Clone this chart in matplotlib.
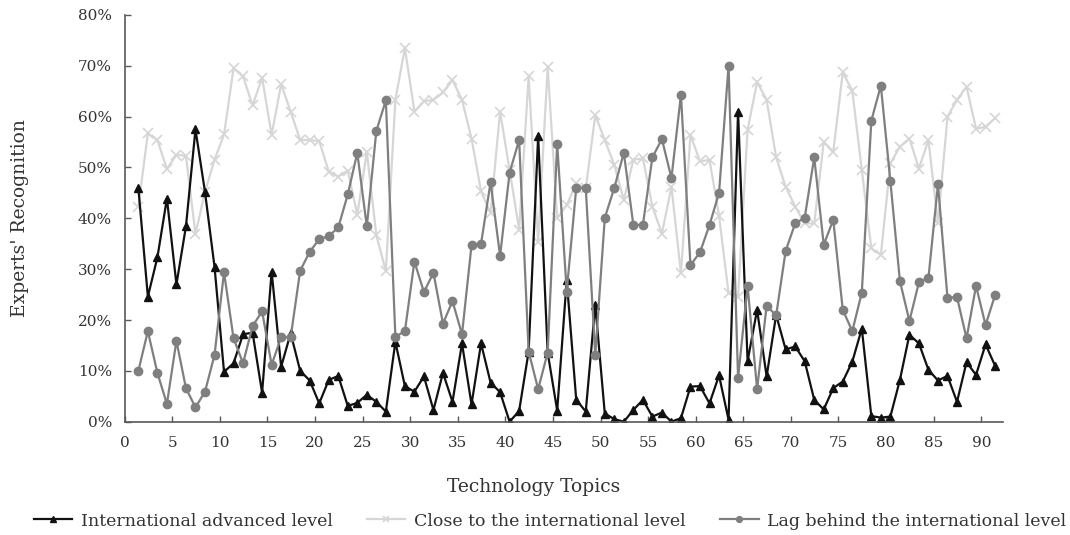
import numpy as np
import matplotlib
matplotlib.use("Agg")
import matplotlib.pyplot as plt
from matplotlib.ticker import FuncFormatter

topics = np.arange(1, 92)

advanced = [46.0, 24.6, 32.3, 43.9, 27.0, 38.4, 57.5, 45.2, 30.5, 9.8,
            11.5, 17.2, 17.5, 5.7, 29.5, 10.8, 17.4, 10.0, 8.1, 3.6,
            8.2, 9.0, 3.1, 3.7, 5.3, 3.9, 2.0, 15.7, 7.0, 5.9,
            8.9, 2.3, 9.6, 3.9, 15.4, 3.4, 15.4, 7.7, 5.8, 0.0,
            2.1, 13.8, 56.2, 13.6, 2.2, 27.9, 4.3, 2.0, 23.0, 1.6,
            0.5, 0.0, 2.3, 4.3, 1.0, 1.8, 0.0, 0.7, 6.9, 7.0,
            3.6, 9.1, 0.4, 61.0, 11.9, 22.0, 8.9, 21.0, 14.2, 14.8,
            11.9, 4.3, 2.4, 6.6, 7.9, 11.8, 18.3, 1.1, 0.8, 1.0,
            8.2, 17.1, 15.4, 10.2, 8.1, 9.0, 3.9, 11.7, 9.2, 15.2,
            11.0]

close = [42.3, 56.7, 55.4, 49.7, 52.5, 52.3, 36.9, 45.2, 51.5, 56.5,
         69.5, 67.9, 62.2, 67.7, 56.4, 66.4, 61.0, 55.4, 55.4, 55.2,
         49.2, 48.2, 49.4, 40.7, 53.1, 36.7, 29.6, 63.3, 73.5, 61.0,
         63.0, 63.3, 64.8, 67.2, 63.3, 55.7, 45.3, 41.0, 61.0, 49.5,
         37.8, 67.9, 35.4, 69.8, 40.0, 42.6, 46.9, 45.9, 60.3, 55.4,
         50.5, 43.6, 51.5, 51.8, 42.3, 37.0, 46.2, 29.2, 56.4, 51.2,
         51.5, 40.5, 25.3, 24.6, 57.4, 66.8, 63.3, 52.0, 46.2, 42.3,
         39.0, 39.0, 55.0, 53.1, 68.7, 65.1, 49.5, 34.1, 32.8, 50.8,
         54.1, 55.7, 49.8, 55.4, 39.0, 60.0, 63.3, 65.9, 57.6, 58.0,
         59.7]

lag = [10.0, 17.8, 9.6, 3.5, 15.9, 6.6, 2.8, 5.9, 13.1, 29.4,
       16.4, 11.5, 18.8, 21.7, 11.2, 16.6, 16.6, 29.7, 33.4, 35.9,
       36.5, 38.2, 44.7, 52.9, 38.4, 57.2, 63.2, 16.7, 17.8, 31.5,
       25.5, 29.3, 19.3, 23.7, 17.2, 34.7, 35.0, 47.1, 32.6, 49.0,
       55.4, 13.8, 6.4, 13.6, 54.6, 25.6, 46.0, 46.0, 13.1, 40.1,
       46.0, 52.9, 38.7, 38.7, 52.0, 55.6, 47.9, 64.3, 30.8, 33.3,
       38.7, 45.0, 70.0, 8.6, 26.7, 6.4, 22.8, 20.9, 33.6, 39.0,
       40.1, 52.0, 34.8, 39.7, 22.0, 17.8, 25.4, 59.2, 66.1, 47.3,
       27.7, 19.8, 27.4, 28.3, 46.7, 24.4, 24.5, 16.4, 26.7, 19.0,
       24.9]

series_names = ["International advanced level",
                "Close to the international level",
                "Lag behind the international level"]
x_tick_values = np.arange(0, 91, 5)
y_tick_values = np.arange(0, 81, 10)

plt.rcParams['font.family'] = ['DejaVu Serif']

fig = plt.figure(figsize=(10.7, 5.35), dpi=100)
ax = fig.add_axes([0.1164, 0.2118, 0.8207, 0.7602])

offset = 0.45  # points sit slightly right of the integer tick positions
h_close, = ax.plot(topics, close, color='#d6d6d6', lw=1.6, marker='x',
                   ms=6.5, mew=1.2, zorder=1)
h_adv, = ax.plot(topics, advanced, color='#111111', lw=1.6, marker='^',
                 ms=6, zorder=2)
h_lag, = ax.plot(topics, lag, color='#7f7f7f', lw=1.6, marker='o',
                 ms=6, zorder=3)

ax.set_xlim(-offset, 91.8)
ax.set_ylim(0, 80)
ax.set_xticks(x_tick_values - offset)
ax.set_xticklabels([str(v) for v in x_tick_values])
ax.set_yticks(y_tick_values)
ax.yaxis.set_major_formatter(FuncFormatter(lambda v, p: f"{int(round(v))}%"))

for s in ['top', 'right']:
    ax.spines[s].set_visible(False)
for s in ['left', 'bottom']:
    ax.spines[s].set_color('#595959')
    ax.spines[s].set_linewidth(1.2)

ax.tick_params(axis='x', direction='in', length=4, width=1, color='#595959',
               labelsize=11, pad=10, labelcolor='#333333')
ax.tick_params(axis='y', direction='in', length=4, width=1, color='#595959',
               labelsize=11, pad=9, labelcolor='#333333')

fig.text(20 / 1070, 1 - 218 / 535, "Experts' Recognition", rotation=90,
         ha='center', va='center', fontsize=13.5, color='#333333')
fig.text(534 / 1070, 1 - 487 / 535, "Technology Topics", ha='center',
         va='center', fontsize=13.5, color='#333333')

leg = fig.legend([h_adv, h_close, h_lag], series_names, loc='center',
                 bbox_to_anchor=(550 / 1070, 1 - 521 / 535), ncol=3,
                 frameon=False, fontsize=12.5, handlelength=2.2,
                 columnspacing=2.0, handletextpad=0.5, markerscale=0.7)
for t in leg.get_texts():
    t.set_color('#333333')

fig.savefig("out.png", dpi=100)
